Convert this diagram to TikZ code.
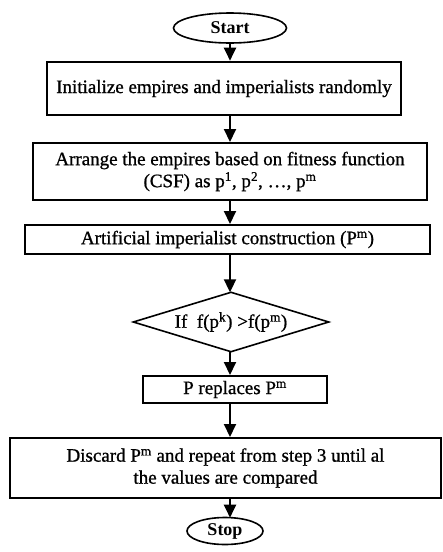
\documentclass[tikz,border=0pt]{standalone}
\usepackage{fontspec}
\setmainfont{Liberation Serif}
\newfontfamily\heavyserif[BoldFont=Liberation Serif, BoldFeatures={FakeBold=0.9}]{Liberation Serif}
\usetikzlibrary{shapes.geometric,arrows.meta}
\begin{document}
\begin{tikzpicture}[x=1pt,y=-1pt,
  every node/.style={font=\fontsize{19}{22}\heavyserif\bfseries, align=center, inner sep=0pt},
  term/.style={draw, ellipse, line width=1.6pt, font=\fontsize{18}{22}\selectfont\bfseries},
  procbox/.style={draw, rectangle, line width=2pt},
  arr/.style={line width=2pt, -{Triangle[width=12pt,length=13pt]}}]
\useasboundingbox (0,0) rectangle (443,552);
\node[term, minimum width=113pt, minimum height=30pt] (start) at (230,28) {Start};
\node[procbox, minimum width=354pt, minimum height=53pt, line width=2.6pt] (b1) at (224,88.5) {Initialize empires and imperialists randomly};
\node[procbox, minimum width=394pt, minimum height=57pt] (b2) at (230,171.5) {Arrange the empires based on fitness function\\(CSF) as p\textsuperscript{1}, p\textsuperscript{2}, \dots, p\textsuperscript{m}};
\node[procbox, minimum width=405pt, minimum height=29pt] (b3) at (227.5,239.5) {Artificial imperialist construction (P\textsuperscript{m})};
\node[minimum width=195pt, minimum height=59pt] (d) at (231,322) {If~ f(p\textsuperscript{k}) >f(p\textsuperscript{m})};
\draw[line width=1.6pt] (d.north) -- (d.east) -- (d.south) -- (d.west) -- cycle;
\node[procbox, minimum width=184pt, minimum height=27pt] (b4) at (235,389.5) {P replaces P\textsuperscript{m}};
\node[procbox, minimum width=431pt, minimum height=60pt] (b5) at (225.5,468) {Discard P\textsuperscript{m} and repeat from step 3 until al\\the values are compared};
\node[term, minimum width=76pt, minimum height=27pt] (stop) at (225,531) {Stop};
\draw[arr] (start.south) -- (start.south |- b1.north);
\draw[arr] (b1.south -| start) -- (b2.north -| start);
\draw[arr] (b2.south -| start) -- (b3.north -| start);
\draw[arr] (b3.south -| start) -- (d.north -| start);
\draw[arr] (d.south -| start) -- (b4.north -| start);
\draw[arr] (b4.south -| start) -- (b5.north -| start);
\draw[arr] (b5.south -| start) -- ([yshift=-1pt]stop.north -| start);
\end{tikzpicture}
\end{document}
